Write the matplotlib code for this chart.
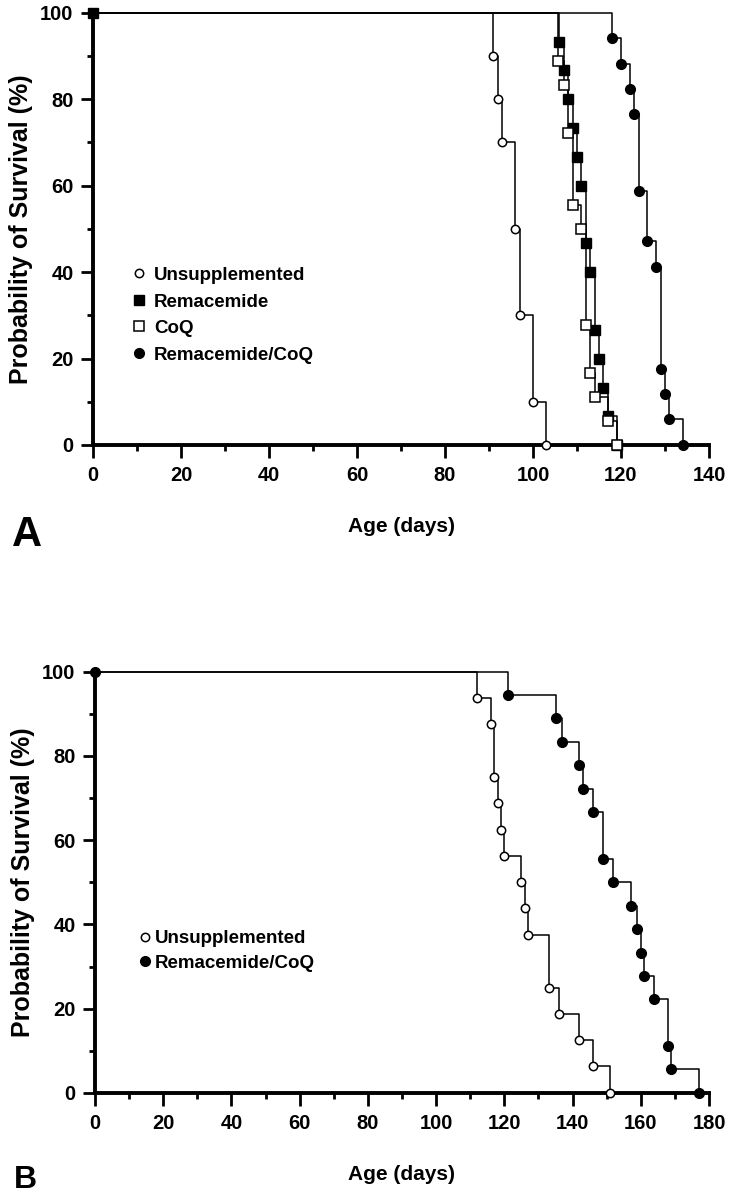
import matplotlib
matplotlib.use("Agg")
import matplotlib.pyplot as plt
from matplotlib.lines import Line2D
from matplotlib.ticker import MultipleLocator

plt.rcParams['font.family'] = ['Liberation Sans', 'DejaVu Sans']
plt.rcParams['font.weight'] = 'bold'

# ---------------- Data (Kaplan-Meier steps) ----------------
# Panel A
a_unsup_t = [91, 92, 93, 96, 97, 100, 103]
a_unsup_v = [90, 80, 70, 50, 30, 10, 0]

a_rem_t = [106, 107, 108, 109, 110, 111, 112, 113, 114, 115, 116, 117, 119]
a_rem_v = [93.3, 86.7, 80.0, 73.3, 66.7, 60.0, 46.7, 40.0, 26.7, 20.0, 13.3, 6.7, 0]

a_coq_t = [105.6, 107, 108, 109, 111, 112, 113, 114, 117, 119]
a_coq_v = [88.9, 83.3, 72.2, 55.6, 50.0, 27.8, 16.7, 11.1, 5.6, 0]

a_rc_t = [118, 120, 122, 123, 124, 126, 128, 129, 130, 131, 134]
a_rc_v = [94.1, 88.2, 82.4, 76.5, 58.8, 47.1, 41.2, 17.6, 11.8, 5.9, 0]

# Panel B
b_unsup_t = [112, 116, 117, 118, 119, 120, 125, 126, 127, 133, 136, 142, 146, 151]
b_unsup_v = [93.8, 87.5, 75.0, 68.8, 62.5, 56.3, 50.0, 43.8, 37.5, 25.0, 18.8, 12.5, 6.3, 0]

b_rc_t = [121, 135, 137, 142, 143, 146, 149, 152, 157, 159, 160, 161, 164, 168, 169, 177]
b_rc_v = [94.4, 88.9, 83.3, 77.8, 72.2, 66.7, 55.6, 50.0, 44.4, 38.9, 33.3, 27.8, 22.2, 11.1, 5.6, 0]

labels_a = ["Unsupplemented", "Remacemide", "CoQ", "Remacemide/CoQ"]
labels_b = ["Unsupplemented", "Remacemide/CoQ"]

# ---------------- Styles ----------------
styles = {
    "Unsupplemented": dict(marker='o', mfc='white', mec='black', ms=6.0, mew=1.1),
    "Remacemide": dict(marker='s', mfc='black', mec='black', ms=6.5, mew=1.0),
    "CoQ": dict(marker='s', mfc='white', mec='black', ms=6.5, mew=1.1),
    "Remacemide/CoQ": dict(marker='o', mfc='black', mec='black', ms=7.0, mew=1.0),
}

W, H = 732, 1199
fig = plt.figure(figsize=(W / 100, H / 100), dpi=100)


def axes_px(left, right, top, bottom):
    return fig.add_axes([left / W, 1 - bottom / H, (right - left) / W, (bottom - top) / H])


def km(ax, t, v, name):
    xs = [0] + list(t)
    ys = [100] + list(v)
    ax.step(xs, ys, where='post', color='black', lw=1.1, clip_on=False, zorder=2)
    ax.plot(t, v, linestyle='none', clip_on=False, zorder=3, **styles[name])


def style_axes(ax, xmax):
    ax.set_xlim(0, xmax)
    ax.set_ylim(0, 100)
    for s in ['top', 'right']:
        ax.spines[s].set_visible(False)
    for s in ['left', 'bottom']:
        ax.spines[s].set_linewidth(2.8)
    ax.xaxis.set_major_locator(MultipleLocator(20))
    ax.xaxis.set_minor_locator(MultipleLocator(10))
    ax.yaxis.set_major_locator(MultipleLocator(20))
    ax.yaxis.set_minor_locator(MultipleLocator(10))
    ax.tick_params(which='major', direction='out', length=9, width=2.0, labelsize=14.5)
    ax.tick_params(which='minor', direction='out', length=4.5, width=2.0)
    ax.tick_params(axis='x', which='major', pad=6)
    ax.tick_params(axis='y', which='major', pad=5)
    for lab in ax.get_xticklabels() + ax.get_yticklabels():
        lab.set_fontweight('bold')
    ax.set_xlabel("Age (days)", fontsize=15, fontweight='bold', labelpad=23)
    ax.set_ylabel("Probability of Survival (%)", fontsize=18, fontweight='bold', labelpad=5)


# ---------------- Panel A ----------------
axA = axes_px(93, 709, 12.7, 445)
km(axA, a_unsup_t, a_unsup_v, "Unsupplemented")
km(axA, a_rem_t, a_rem_v, "Remacemide")
km(axA, a_coq_t, a_coq_v, "CoQ")
km(axA, a_rc_t, a_rc_v, "Remacemide/CoQ")
axA.plot([0], [100], linestyle='none', clip_on=False, zorder=4, **styles["Remacemide"])
style_axes(axA, 140)

hA = [Line2D([], [], linestyle='none', **styles[n]) for n in labels_a]
legA = axA.legend(hA, labels_a, loc='upper left', bbox_to_anchor=(0.062, 0.412),
                  frameon=False, borderpad=0, borderaxespad=0, handlelength=0.8,
                  handletextpad=0.42, labelspacing=0.5,
                  prop=dict(family='Liberation Sans', weight='bold', size=13.5))

fig.text(12 / W, 1 - 546 / H, "A", fontsize=30, fontweight='bold', ha='left', va='baseline')

# ---------------- Panel B ----------------
axB = axes_px(95, 709, 671.5, 1093)
km(axB, b_unsup_t, b_unsup_v, "Unsupplemented")
km(axB, b_rc_t, b_rc_v, "Remacemide/CoQ")
axB.plot([0], [100], linestyle='none', clip_on=False, zorder=4, **styles["Remacemide/CoQ"])
style_axes(axB, 180)

hB = [Line2D([], [], linestyle='none', **styles[n]) for n in labels_b]
legB = axB.legend(hB, labels_b, loc='upper left', bbox_to_anchor=(0.073, 0.386),
                  frameon=False, borderpad=0, borderaxespad=0, handlelength=0.6,
                  handletextpad=0.2, labelspacing=0.39,
                  prop=dict(family='Liberation Sans', weight='bold', size=13.5))

fig.text(14 / W, 1 - 1188 / H, "B", fontsize=23, fontweight='bold', ha='left', va='baseline')

fig.savefig("out.png", dpi=100)
